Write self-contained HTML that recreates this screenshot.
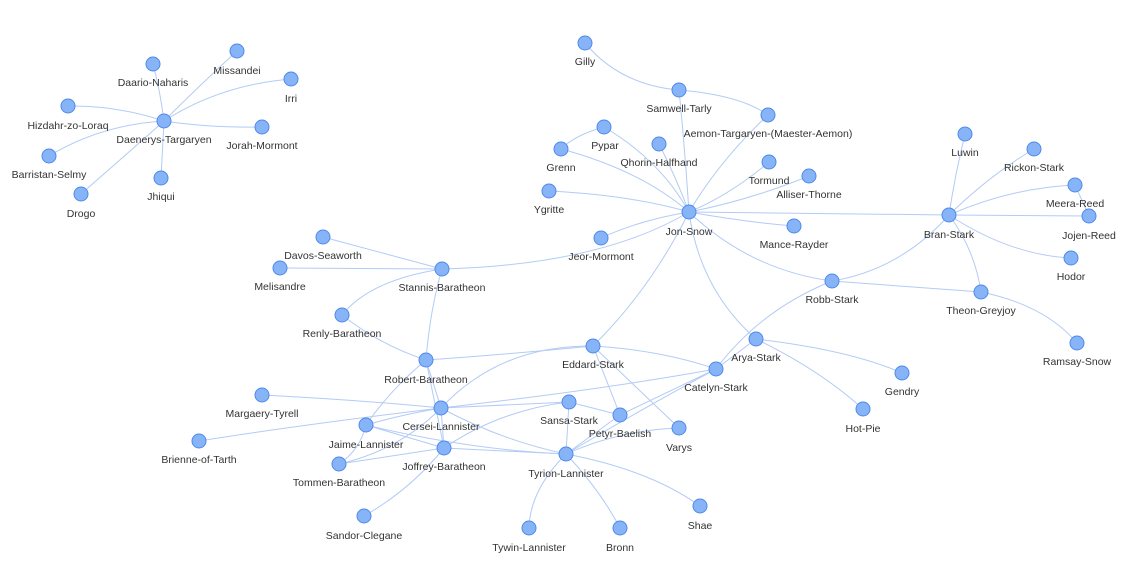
<!DOCTYPE html>
<html><head><meta charset="utf-8"><style>
html,body{margin:0;padding:0;background:#fff;width:1135px;height:565px;overflow:hidden}
svg{display:block}
path{fill:none;stroke:#b3cbf5;stroke-width:1}
circle{fill:#86b4f7;stroke:#4f88ee;stroke-width:1}
text{font-family:"Liberation Sans",sans-serif;font-size:10.5px;fill:#333;text-anchor:middle}
</style></head><body>
<svg width="1135" height="565" viewBox="0 0 1135 565">
<g>
<path d="M164,121 Q160,90 153,64"/>
<path d="M164,121 Q200,85 237,51"/>
<path d="M164,121 Q220,85 291,79"/>
<path d="M164,121 Q115,105 68,106"/>
<path d="M164,121 Q210,128 262,127"/>
<path d="M164,121 Q100,125 49,156"/>
<path d="M164,121 L161,178"/>
<path d="M164,121 Q120,160 81,194"/>
<path d="M585,43 Q620,85 679,90"/>
<path d="M679,90 Q740,95 768,115"/>
<path d="M679,90 Q685,150 689,212"/>
<path d="M768,115 Q720,160 689,212"/>
<path d="M604,127 Q660,160 689,212"/>
<path d="M604,127 Q575,135 561,149"/>
<path d="M561,149 Q640,170 689,212"/>
<path d="M659,144 Q675,175 689,212"/>
<path d="M769,162 Q730,195 689,212"/>
<path d="M809,176 Q750,200 689,212"/>
<path d="M549,191 Q630,195 689,212"/>
<path d="M689,212 Q745,222 794,226"/>
<path d="M601,238 Q640,220 689,212"/>
<path d="M442,269 Q600,265 689,212"/>
<path d="M689,212 L949,215"/>
<path d="M689,212 Q750,270 832,281"/>
<path d="M689,212 Q650,290 593,346"/>
<path d="M689,212 Q700,290 756,339"/>
<path d="M949,215 Q955,175 965,134"/>
<path d="M949,215 Q990,175 1034,149"/>
<path d="M949,215 Q1010,188 1075,185"/>
<path d="M949,215 L1089,216"/>
<path d="M1075,185 L1089,216"/>
<path d="M949,215 Q1010,255 1071,258"/>
<path d="M949,215 Q975,250 981,292"/>
<path d="M949,215 Q900,270 832,281"/>
<path d="M832,281 L981,292"/>
<path d="M981,292 Q1045,305 1077,343"/>
<path d="M832,281 Q760,310 716,369"/>
<path d="M756,339 Q850,350 902,373"/>
<path d="M756,339 Q820,370 863,409"/>
<path d="M756,339 L716,369"/>
<path d="M323,237 L442,269"/>
<path d="M280,268 L442,269"/>
<path d="M442,269 Q370,280 342,315"/>
<path d="M442,269 Q430,310 426,360"/>
<path d="M342,315 Q380,345 426,360"/>
<path d="M426,360 Q500,355 593,346"/>
<path d="M426,360 L441,408"/>
<path d="M426,360 L444,448"/>
<path d="M426,360 Q390,390 366,425"/>
<path d="M593,346 Q660,350 716,369"/>
<path d="M441,408 Q500,345 593,346"/>
<path d="M593,346 L620,415"/>
<path d="M593,346 L679,428"/>
<path d="M716,369 Q600,390 441,408"/>
<path d="M716,369 Q640,410 566,454"/>
<path d="M716,369 L620,415"/>
<path d="M262,395 Q360,400 441,408"/>
<path d="M441,408 Q400,415 366,425"/>
<path d="M441,408 L569,402"/>
<path d="M441,408 Q500,440 566,454"/>
<path d="M441,408 L444,448"/>
<path d="M441,408 Q400,450 339,464"/>
<path d="M199,441 Q300,425 441,408"/>
<path d="M366,425 L444,448"/>
<path d="M366,425 Q470,450 566,454"/>
<path d="M366,425 Q360,450 339,464"/>
<path d="M444,448 L339,464"/>
<path d="M444,448 Q500,410 569,402"/>
<path d="M444,448 L566,454"/>
<path d="M444,448 Q410,490 364,516"/>
<path d="M569,402 L566,454"/>
<path d="M569,402 L620,415"/>
<path d="M620,415 L566,454"/>
<path d="M679,428 Q620,430 566,454"/>
<path d="M566,454 Q650,470 700,506"/>
<path d="M566,454 Q530,490 529,528"/>
<path d="M566,454 Q600,490 620,528"/>
</g>
<g>
<circle cx="164" cy="121" r="7"/><text x="164" y="143">Daenerys-Targaryen</text>
<circle cx="153" cy="64" r="7"/><text x="153" y="86">Daario-Naharis</text>
<circle cx="237" cy="51" r="7"/><text x="237" y="74">Missandei</text>
<circle cx="291" cy="79" r="7"/><text x="291" y="102">Irri</text>
<circle cx="68" cy="106" r="7"/><text x="68" y="129">Hizdahr-zo-Loraq</text>
<circle cx="262" cy="127" r="7"/><text x="262" y="149">Jorah-Mormont</text>
<circle cx="49" cy="156" r="7"/><text x="49" y="178">Barristan-Selmy</text>
<circle cx="161" cy="178" r="7"/><text x="161" y="200">Jhiqui</text>
<circle cx="81" cy="194" r="7"/><text x="81" y="217">Drogo</text>
<circle cx="585" cy="43" r="7"/><text x="585" y="65">Gilly</text>
<circle cx="679" cy="90" r="7"/><text x="679" y="112">Samwell-Tarly</text>
<circle cx="768" cy="115" r="7"/><text x="768" y="137">Aemon-Targaryen-(Maester-Aemon)</text>
<circle cx="604" cy="127" r="7"/><text x="605" y="149">Pypar</text>
<circle cx="561" cy="149" r="7"/><text x="561" y="171">Grenn</text>
<circle cx="659" cy="144" r="7"/><text x="659" y="166">Qhorin-Halfhand</text>
<circle cx="769" cy="162" r="7"/><text x="769" y="184">Tormund</text>
<circle cx="809" cy="176" r="7"/><text x="809" y="198">Alliser-Thorne</text>
<circle cx="549" cy="191" r="7"/><text x="549" y="213">Ygritte</text>
<circle cx="689" cy="212" r="7"/><text x="689" y="235">Jon-Snow</text>
<circle cx="794" cy="226" r="7"/><text x="794" y="248">Mance-Rayder</text>
<circle cx="601" cy="238" r="7"/><text x="601" y="260">Jeor-Mormont</text>
<circle cx="965" cy="134" r="7"/><text x="965" y="156">Luwin</text>
<circle cx="1034" cy="149" r="7"/><text x="1034" y="171">Rickon-Stark</text>
<circle cx="1075" cy="185" r="7"/><text x="1075" y="207">Meera-Reed</text>
<circle cx="949" cy="215" r="7"/><text x="949" y="238">Bran-Stark</text>
<circle cx="1089" cy="216" r="7"/><text x="1089" y="239">Jojen-Reed</text>
<circle cx="1071" cy="258" r="7"/><text x="1071" y="280">Hodor</text>
<circle cx="832" cy="281" r="7"/><text x="832" y="303">Robb-Stark</text>
<circle cx="981" cy="292" r="7"/><text x="981" y="314">Theon-Greyjoy</text>
<circle cx="1077" cy="343" r="7"/><text x="1077" y="365">Ramsay-Snow</text>
<circle cx="756" cy="339" r="7"/><text x="756" y="361">Arya-Stark</text>
<circle cx="902" cy="373" r="7"/><text x="902" y="395">Gendry</text>
<circle cx="863" cy="409" r="7"/><text x="863" y="432">Hot-Pie</text>
<circle cx="323" cy="237" r="7"/><text x="323" y="259">Davos-Seaworth</text>
<circle cx="280" cy="268" r="7"/><text x="280" y="290">Melisandre</text>
<circle cx="442" cy="269" r="7"/><text x="442" y="291">Stannis-Baratheon</text>
<circle cx="342" cy="315" r="7"/><text x="342" y="337">Renly-Baratheon</text>
<circle cx="426" cy="360" r="7"/><text x="426" y="383">Robert-Baratheon</text>
<circle cx="593" cy="346" r="7"/><text x="593" y="368">Eddard-Stark</text>
<circle cx="716" cy="369" r="7"/><text x="716" y="391">Catelyn-Stark</text>
<circle cx="262" cy="395" r="7"/><text x="262" y="417">Margaery-Tyrell</text>
<circle cx="569" cy="402" r="7"/><text x="569" y="424">Sansa-Stark</text>
<circle cx="441" cy="408" r="7"/><text x="441" y="430">Cersei-Lannister</text>
<circle cx="620" cy="415" r="7"/><text x="620" y="437">Petyr-Baelish</text>
<circle cx="366" cy="425" r="7"/><text x="366" y="448">Jaime-Lannister</text>
<circle cx="679" cy="428" r="7"/><text x="679" y="451">Varys</text>
<circle cx="199" cy="441" r="7"/><text x="199" y="463">Brienne-of-Tarth</text>
<circle cx="444" cy="448" r="7"/><text x="444" y="470">Joffrey-Baratheon</text>
<circle cx="339" cy="464" r="7"/><text x="339" y="486">Tommen-Baratheon</text>
<circle cx="566" cy="454" r="7"/><text x="566" y="477">Tyrion-Lannister</text>
<circle cx="700" cy="506" r="7"/><text x="700" y="529">Shae</text>
<circle cx="364" cy="516" r="7"/><text x="364" y="539">Sandor-Clegane</text>
<circle cx="529" cy="528" r="7"/><text x="529" y="551">Tywin-Lannister</text>
<circle cx="620" cy="528" r="7"/><text x="620" y="551">Bronn</text>
</g>
</svg>
</body></html>
